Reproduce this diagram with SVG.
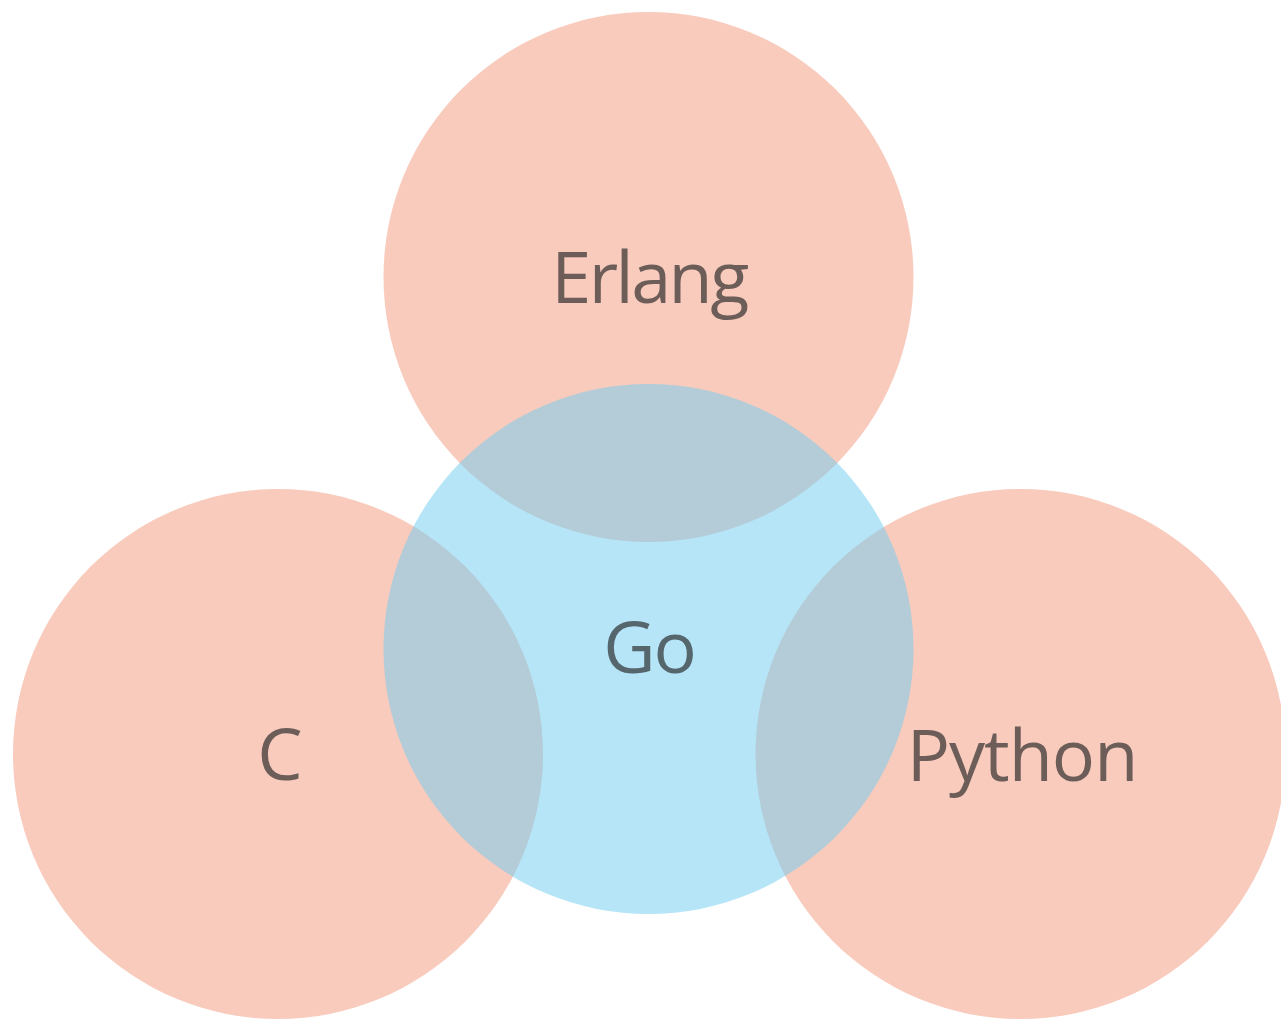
<svg xmlns="http://www.w3.org/2000/svg" width="1281" height="1020" viewBox="0 0 1281 1020">
<style>
.outer{fill:#F9CBBD}
.core{fill:rgb(115,205,241);fill-opacity:0.52}
.lbl{font-family:"Open Sans","Noto Sans",sans-serif;font-size:72px;text-anchor:middle;fill:#6d5d59}
.lbl-go{fill:#55666d}
</style>
<rect width="1281" height="1020" fill="#ffffff"/>
<g id="erlang"><circle class="outer" cx="648.5" cy="277" r="265"/></g>
<g id="c"><circle class="outer" cx="278" cy="754" r="265"/></g>
<g id="python"><circle class="outer" cx="1020.5" cy="754" r="265"/></g>
<g id="go"><circle class="core" cx="648.5" cy="649" r="265"/></g>
<g id="connectors"></g>
<g id="labels">
<text class="lbl" x="649" y="303" letter-spacing="-2.6">Erlang</text>
<text class="lbl lbl-go" x="649" y="673" font-size="68" letter-spacing="-2">Go</text>
<text class="lbl" x="280" y="780">C</text>
<text class="lbl" x="1022" y="781" letter-spacing="-1">Python</text>
</g>
</svg>
